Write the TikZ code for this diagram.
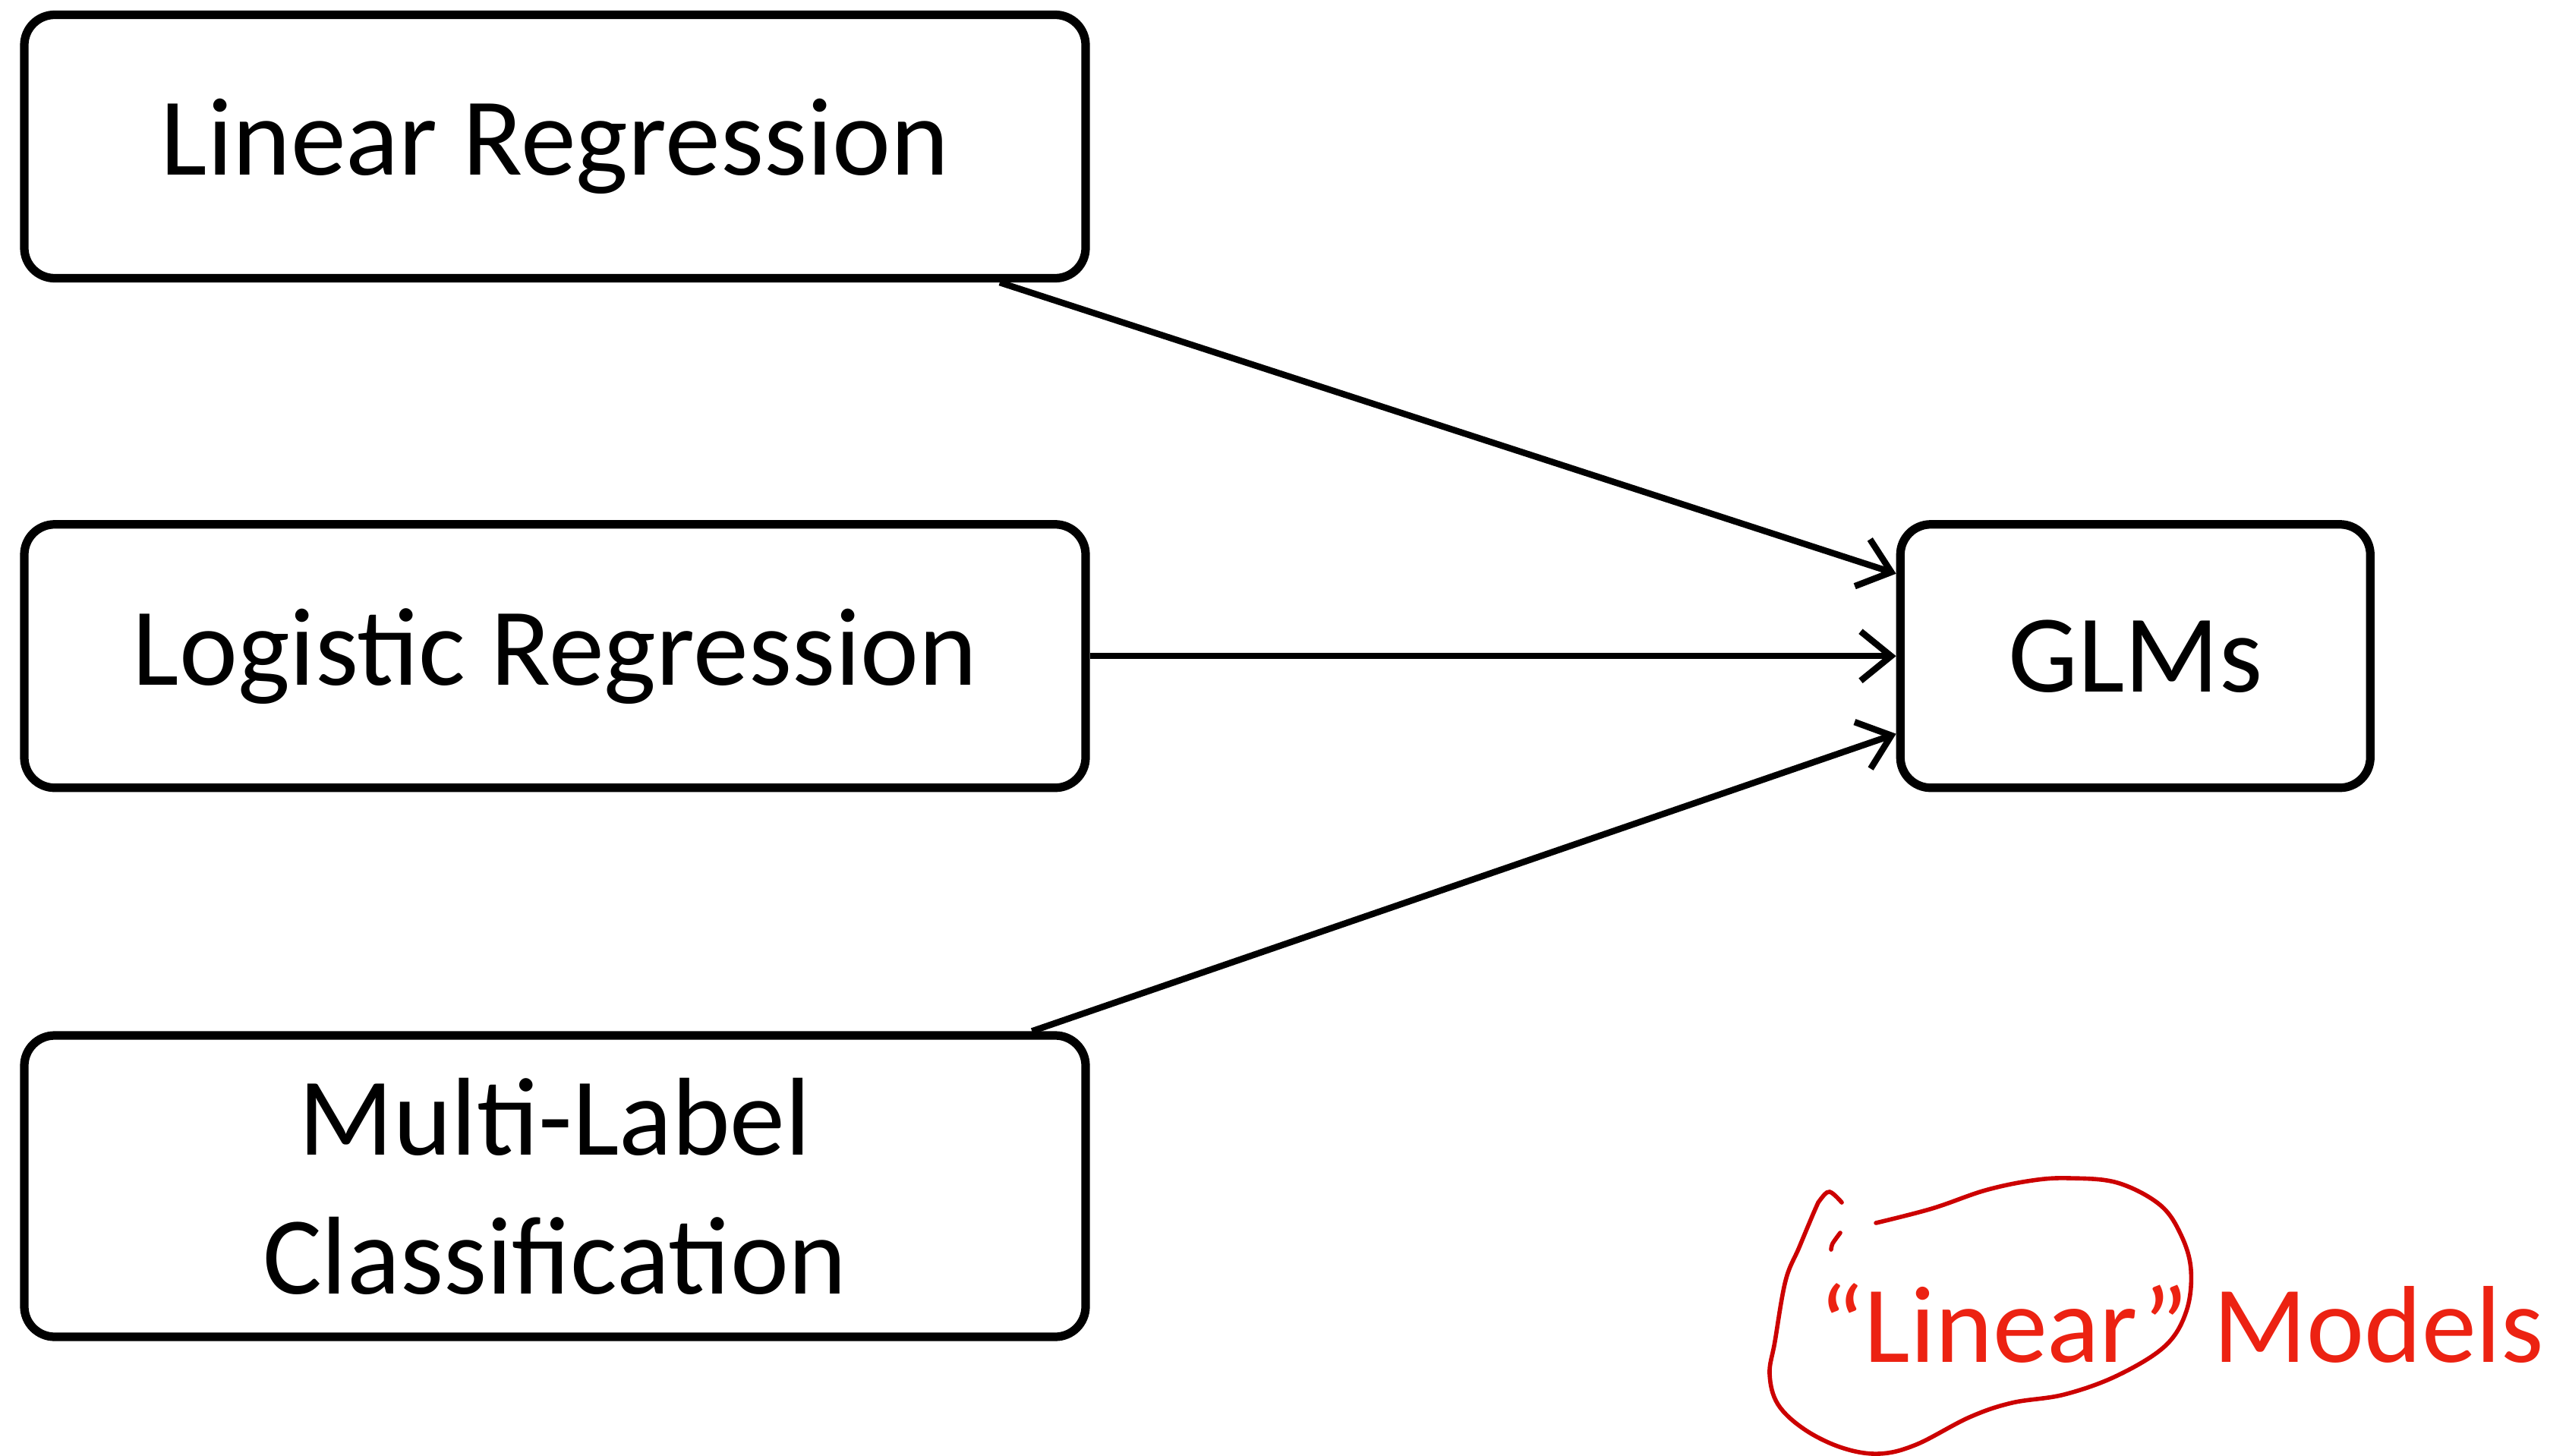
\documentclass[tikz,border=0pt]{standalone}
\usepackage{fontspec}
\setmainfont{Carlito}
\usetikzlibrary{positioning, arrows.meta}
\definecolor{notered}{RGB}{236,34,18}
\definecolor{loopred}{RGB}{204,0,0}
\tikzset{
    model/.style={draw, line width=3.2pt, rounded corners=0.4cm, minimum width=13.98cm, minimum height=3.47cm, align=center, inner sep=0, font=\fontsize{41.5}{52}\selectfont},
    arrow/.style={line width=2.4pt, -{Straight Barb[length=0.4cm, width=0.65cm]}}
}
\begin{document}
\begin{tikzpicture}
\useasboundingbox (0,0) rectangle (33.84,-19.17);
\node[model] (linreg) at (7.31,-1.93) {Linear Regression};
\node[model, below=3.13cm of linreg] (logreg) {Logistic Regression};
\node[model, minimum height=3.97cm, below=3.15cm of logreg] (multilabel) {Multi-Label\\Classification};
\node[model, minimum width=6.19cm, right=10.62cm of logreg] (glms) {GLMs};
\draw[arrow] (linreg.-17.6) -- (glms.161);
\draw[arrow] (logreg.east) -- (glms.west);
\draw[arrow] (multilabel.18.4) -- (glms.198.5);
\node[anchor=base west, inner sep=0, text=notered, font=\fontsize{41}{52}\selectfont] (linmodels) at (23.95,-17.94) {“Linear” Models};
\draw[loopred, line width=1.6pt, line cap=round] plot[smooth, tension=0.6] coordinates {(24.26,-15.84) (24.10,-15.70) (23.98,-15.80) (23.91,-15.93) (23.70,-16.43) (23.52,-16.87) (23.38,-17.67) (23.31,-18.10) (23.42,-18.50) (23.77,-18.83) (24.26,-19.07) (24.75,-19.15) (25.24,-19.03) (25.94,-18.67) (26.50,-18.48) (27.19,-18.37) (27.89,-18.12) (28.52,-17.73) (28.80,-17.27) (28.86,-16.73) (28.73,-16.27) (28.45,-15.87) (27.89,-15.58) (27.26,-15.52) (26.77,-15.55) (26.15,-15.68) (25.45,-15.92) (24.71,-16.11)};
\draw[loopred, line width=1.6pt, line cap=round] plot[smooth] coordinates {(24.24,-16.24) (24.14,-16.38) (24.12,-16.46)};
\end{tikzpicture}
\end{document}
